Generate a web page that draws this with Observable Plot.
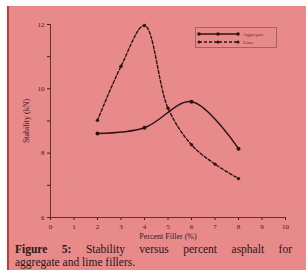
<!DOCTYPE html>
<html><head><meta charset="utf-8">
<script src="https://cdn.jsdelivr.net/npm/d3@7"></script>
<script src="https://cdn.jsdelivr.net/npm/@observablehq/plot@0.6"></script>
<style>
body{margin:0;background:#fff;width:306px;height:277px;overflow:hidden;font-family:"Liberation Serif",serif;}
#wrap{position:absolute;left:7px;top:6px;width:299px;height:264px;background:#e8898a;border-left:2px solid #c93a36;}
#chart{position:absolute;left:0;top:0;}
#chart svg [aria-label="x-axis label"] text,#chart svg [aria-label="y-axis label"] text{font-size:8px;}
#legend{position:absolute;left:186px;top:21px;width:80px;height:19px;border:1px solid #9a6565;}
#caption{position:absolute;left:6px;top:237px;width:277px;font-size:11.5px;line-height:13px;color:#2a1515;}
#caption .l1{text-align:justify;text-align-last:justify;}
</style></head>
<body>
<div id="wrap">
<div id="chart"></div>
<div id="legend">
<svg width="80" height="19" style="position:absolute;left:0;top:0">
<line x1="3" y1="6" x2="42" y2="6" stroke="#2a1515" stroke-width="1.3"/>
<circle cx="3" cy="6" r="1.8" fill="#2a1515"/><circle cx="22" cy="6" r="1.8" fill="#2a1515"/><circle cx="42" cy="6" r="1.8" fill="#2a1515"/>
<line x1="3" y1="14" x2="42" y2="14" stroke="#2a1515" stroke-width="1.3" stroke-dasharray="3,2"/>
<circle cx="3" cy="14" r="1.5" fill="#2a1515"/><circle cx="22" cy="14" r="1.5" fill="#2a1515"/><circle cx="42" cy="14" r="1.5" fill="#2a1515"/>
<text x="47" y="8" font-size="5" fill="#5a3535" font-family="Liberation Serif">Aggregate</text>
<text x="47" y="16" font-size="5" fill="#5a3535" font-family="Liberation Serif">Lime</text>
</svg>
</div>
<div id="caption"><div class="l1"><b>Figure 5:</b> Stability versus percent asphalt for</div><div>aggregate and lime fillers.</div></div>
</div>
<script>
const aggFiller = [2, 4, 6, 8];
const aggregate = [8.61, 8.79, 9.6, 8.14];
const limeFiller = [2, 3, 4, 5, 6, 7, 8];
const lime = [9.02, 10.7, 11.97, 9.4, 8.26, 7.66, 7.21];
const xTicks = [0,1,2,3,4,5,6,7,8,9,10];
const yTicks = [6,7,8,9,10,11,12];

const aggData = aggFiller.map((x,i)=>({x, y: aggregate[i]}));
const limeData = limeFiller.map((x,i)=>({x, y: lime[i]}));
const ink = "#2a1515";

const chart = Plot.plot({
  width: 297, height: 236,
  marginLeft: 41, marginRight: 21, marginTop: 18, marginBottom: 25,
  style: {background: "transparent", fontFamily: "Liberation Serif", fontSize: "7px", color: "#3a2020"},
  x: {domain: [0, 10]},
  y: {domain: [6, 12]},
  marks: [
    Plot.axisX({ticks: xTicks, tickSize: 3, tickPadding: 4, label: "Percent Filler (%)", labelAnchor: "center", labelArrow: "none", labelOffset: 21}),
    Plot.axisY({ticks: yTicks, tickSize: 3, tickPadding: 3, tickFormat: d => d % 2 === 0 ? d : "", label: "Stability (kN)", labelAnchor: "center", labelArrow: "none", labelOffset: 27}),
    Plot.ruleX([0], {stroke: "#5a3535", strokeWidth: 1}),
    Plot.ruleY([6], {stroke: "#5a3535", strokeWidth: 1}),
    Plot.line(limeData, {x: "x", y: "y", curve: "catmull-rom", stroke: ink, strokeWidth: 1.4, strokeDasharray: "3,2"}),
    Plot.dot(limeData, {x: "x", y: "y", r: 1.7, fill: ink}),
    Plot.line(aggData, {x: "x", y: "y", curve: "catmull-rom", stroke: ink, strokeWidth: 1.4}),
    Plot.dot(aggData, {x: "x", y: "y", r: 2, fill: ink})
  ]
});
document.getElementById("chart").appendChild(chart);
</script>
</body></html>
